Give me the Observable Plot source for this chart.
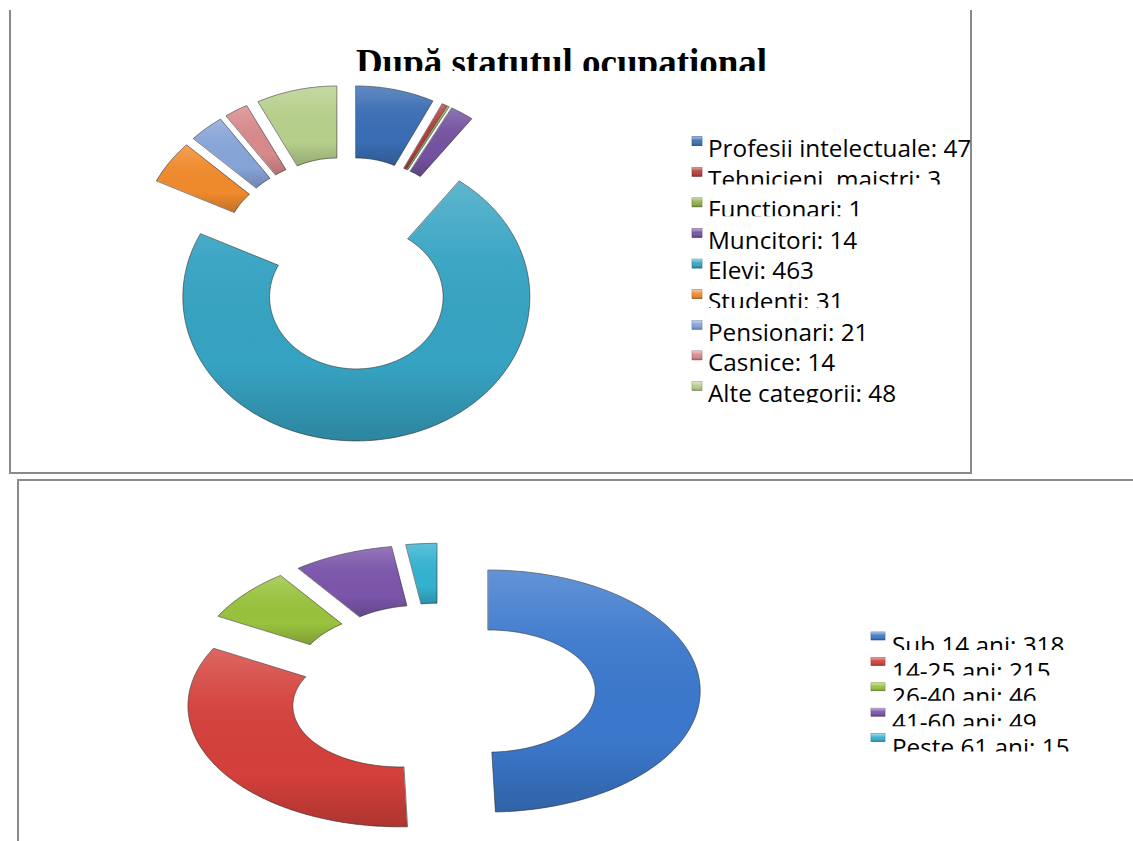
<!DOCTYPE html>
<html><head><meta charset="utf-8">
<script src="https://cdn.jsdelivr.net/npm/d3@7"></script>
<script src="https://cdn.jsdelivr.net/npm/@observablehq/plot@0.6"></script>
<style>
html,body{margin:0;padding:0;background:#fff;width:1133px;height:841px;overflow:hidden;}
#page{position:relative;width:1133px;height:841px;}
.abs{position:absolute;}
</style></head><body>
<svg width="0" height="0" style="position:absolute"><defs>
<linearGradient id="shade" x1="0" y1="0" x2="0" y2="1">
 <stop offset="0" stop-color="#fff" stop-opacity="0.20"/>
 <stop offset="0.3" stop-color="#fff" stop-opacity="0.04"/>
 <stop offset="0.7" stop-color="#000" stop-opacity="0"/>
 <stop offset="1" stop-color="#000" stop-opacity="0.18"/>
</linearGradient>
<linearGradient id="mshade" x1="0" y1="0" x2="0" y2="1">
 <stop offset="0" stop-color="#fff" stop-opacity="0.55"/>
 <stop offset="0.45" stop-color="#fff" stop-opacity="0.05"/>
 <stop offset="1" stop-color="#000" stop-opacity="0.25"/>
</linearGradient>
</defs></svg>
<div id="page"></div>
<script>
// ---------- data ----------
const chartTitle = "După statutul ocupational";
const occupations = ["Profesii intelectuale", "Tehnicieni, maistri", "Functionari", "Muncitori", "Elevi", "Studenti", "Pensionari", "Casnice", "Alte categorii"];
const occupationCounts = [47, 3, 1, 14, 463, 31, 21, 14, 48];
const occupationColors = ["#3a6db4", "#b83b38", "#8fb04a", "#7452a0", "#36a3c2", "#f08a2c", "#86a4d8", "#d8898b", "#b6cf8b"];
const ageGroups = ["Sub 14 ani", "14-25 ani", "26-40 ani", "41-60 ani", "Peste 61 ani"];
const ageCounts = [318, 215, 46, 49, 15];
const ageColors = ["#3b78cc", "#d4403b", "#99c23d", "#7b55aa", "#34b2d0"];

// ---------- helpers ----------
function donutPoints(names, values, hole, explode, stepDeg) {
  const arcs = d3.pie().sort(null).value((d, i) => values[i])(names);
  const pts = [];
  arcs.forEach((a, i) => {
    const mid = (a.startAngle + a.endAngle) / 2;
    const ox = explode * Math.sin(mid), oy = explode * Math.cos(mid);
    const span = a.endAngle - a.startAngle;
    const n = Math.max(2, Math.ceil(span / (stepDeg * Math.PI / 180)));
    for (let k = 0; k <= n; k++) {
      const t = a.startAngle + span * k / n;
      pts.push({name: names[i], x: ox + Math.sin(t), y: oy + Math.cos(t)});
    }
    for (let k = n; k >= 0; k--) {
      const t = a.startAngle + span * k / n;
      pts.push({name: names[i], x: ox + hole * Math.sin(t), y: oy + hole * Math.cos(t)});
    }
  });
  return pts;
}

function donut({names, values, colors, W, H, cx, cy, rx, ry, hole, explode}) {
  const pts = donutPoints(names, values, hole, explode, 1);
  return Plot.plot({
    width: W, height: H, margin: 0,
    x: {domain: [-cx / rx, (W - cx) / rx], axis: null},
    y: {domain: [-(H - cy) / ry, cy / ry], axis: null},
    color: {domain: names, range: colors},
    style: {background: "transparent", overflow: "visible"},
    marks: [
      Plot.line(pts, {x: "x", y: "y", z: "name", fill: "name", stroke: "#303030", strokeOpacity: 0.6, strokeWidth: 1, curve: "linear-closed"}),
      Plot.line(pts, {x: "x", y: "y", z: "name", fill: "url(#shade)", stroke: "none", curve: "linear-closed"})
    ]
  });
}

const page = document.getElementById("page");

// boxes
const box1 = document.createElement("div");
box1.className = "abs";
Object.assign(box1.style, {left: "9px", top: "10px", width: "963px", height: "464px", boxSizing: "border-box",
  borderLeft: "2px solid #8a8a8a", borderRight: "2px solid #8a8a8a", borderBottom: "2px solid #8a8a8a"});
page.appendChild(box1);
const box2 = document.createElement("div");
box2.className = "abs";
Object.assign(box2.style, {left: "17px", top: "479px", width: "1130px", height: "380px", boxSizing: "border-box",
  borderLeft: "2px solid #8a8a8a", borderTop: "2px solid #8a8a8a"});
page.appendChild(box2);

// charts
const top1 = donut({names: occupations, values: occupationCounts, colors: occupationColors,
  W: 972, H: 474, cx: 346, cy: 263, rx: 173.5, ry: 144, hole: 0.5, explode: 0.239});
top1.style.position = "absolute"; top1.style.left = "0px"; top1.style.top = "0px";
page.appendChild(top1);

const bot1 = donut({names: ageGroups, values: ageCounts, colors: ageColors,
  W: 1133, H: 361, cx: 440, cy: 211, rx: 212, ry: 121, hole: 0.505, explode: 0.225});
bot1.style.position = "absolute"; bot1.style.left = "0px"; bot1.style.top = "480px";
page.appendChild(bot1);

// overlay: title and legends
const svg = d3.select(page).append("svg")
  .attr("width", 1133).attr("height", 841)
  .style("position", "absolute").style("left", 0).style("top", 0);
const defs = svg.append("defs");
let clipId = 0;
function clipRect(x, y, w, h) {
  const id = "c" + (clipId++);
  defs.append("clipPath").attr("id", id).append("rect").attr("x", x).attr("y", y).attr("width", w).attr("height", h);
  return "url(#" + id + ")";
}

svg.append("text")
  .attr("x", 561.5).attr("y", 75)
  .attr("text-anchor", "middle")
  .attr("clip-path", clipRect(0, 0, 1133, 71))
  .style("font-family", "'Liberation Serif', 'Times New Roman', serif")
  .style("font-weight", "bold").style("font-size", "37px").attr("fill", "#000")
  .text(chartTitle);

const capH = 17.3;
// top legend
const clipOffsets = {1: -3, 2: -2, 5: -2, 8: 1};
occupations.forEach((name, i) => {
  const base = 157 + 30.6 * i;
  const capTop = base - capH;
  const g = svg.append("g");
  g.append("rect").attr("x", 692).attr("y", capTop - 3).attr("width", 10).attr("height", 9)
    .attr("fill", occupationColors[i]).attr("stroke", d3.color(occupationColors[i]).darker(1)).attr("stroke-width", 0.6);
  g.append("rect").attr("x", 692).attr("y", capTop - 3).attr("width", 10).attr("height", 9).attr("fill", "url(#mshade)");
  const clipBottom = base + (i in clipOffsets ? clipOffsets[i] : 8);
  g.append("text").attr("x", 708).attr("y", base)
    .attr("clip-path", clipRect(600, capTop - 12, 371, clipBottom - (capTop - 12)))
    .style("font-family", "'Open Sans', sans-serif").style("font-size", "24.3px").attr("fill", "#000")
    .text(name + ": " + occupationCounts[i]);
});

// bottom legend
ageGroups.forEach((name, i) => {
  const clipBottom = 650 + 25.4 * i;
  const capTop = clipBottom - 13;
  const base = capTop + capH;
  const g = svg.append("g");
  g.append("rect").attr("x", 871).attr("y", capTop - 5).attr("width", 14).attr("height", 8)
    .attr("fill", ageColors[i]).attr("stroke", d3.color(ageColors[i]).darker(1)).attr("stroke-width", 0.6);
  g.append("rect").attr("x", 871).attr("y", capTop - 5).attr("width", 14).attr("height", 8).attr("fill", "url(#mshade)");
  g.append("text").attr("x", 892).attr("y", base)
    .attr("clip-path", clipRect(860, capTop - 12, 273, clipBottom - (capTop - 12)))
    .style("font-family", "'Open Sans', sans-serif").style("font-size", "24.3px").attr("fill", "#000")
    .text(name + ": " + ageCounts[i]);
});
</script>
</body></html>
